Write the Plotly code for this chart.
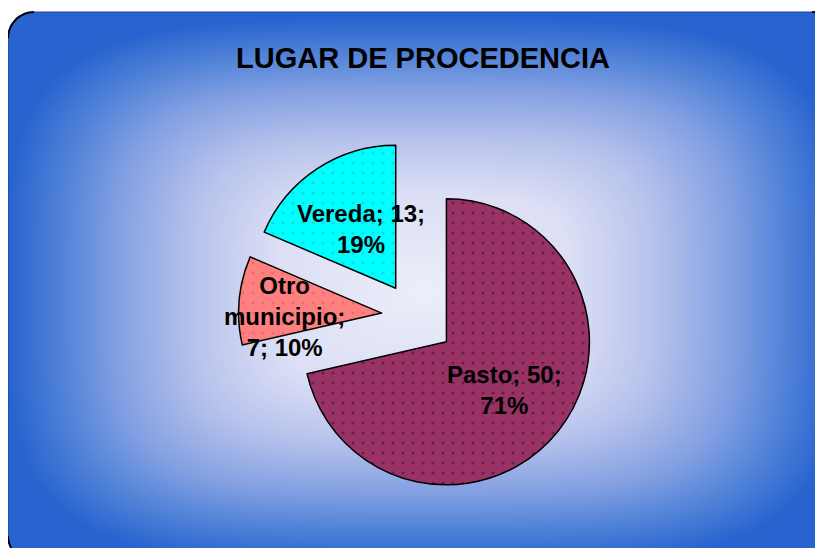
import numpy as np
import plotly.graph_objects as go

# data
labels = ['Pasto', 'Otro municipio', 'Vereda']
values = [50, 7, 13]
wrapped_labels = ['Pasto', 'Otro<br>municipio', 'Vereda']
value_breaks = [' ', '<br>', ' ']
pct_breaks = ['<br>', ' ', '<br>']
slice_colors = ['#993366', '#ff8080', '#00ffff']
dot_colors = ['#3c0a24', '#d85a5a', '#00c4c4']
title_text = 'LUGAR DE PROCEDENCIA'

# geometry in screen pixels (y downwards); the page puts the figure 8px in
W, H = 823, 548
OFF = 8
cx, cy = 414, 316          # pie centre
r = 143                    # pie radius
pull = [0.29, 0.227, 0.232]
label_dist = [0.53, 0.68, 0.48]   # label distance from slice tip, in radii
label_turn = [1, -7, 3]           # small angle nudges for labels, degrees

total = sum(values)
pcts = [round(100 * v / total) for v in values]
texts = [f"{w};{vb}{v};{pb}{p}%" for w, vb, v, pb, p in
         zip(wrapped_labels, value_breaks, values, pct_breaks, pcts)]

half = r * (1 + max(pull))
dom_x = [(cx - OFF - half) / W, (cx - OFF + half) / W]
dom_y = [(H + OFF - cy - half) / H, (H + OFF - cy + half) / H]

fig = go.Figure()

# background panel: rounded rectangle, light in the centre, blue at the rim
x0, y0, x1, y1, rc = 8, 12, 838, 562, 26
gx = np.arange(x0 + 2.5, x1, 5)
gy = np.arange(y0 + 2.5, y1, 5)
mx, my = (x0 + x1) / 2, 290
u = np.abs(gx[None, :] - mx) / ((x1 - x0) / 2)
v = np.abs(gy[:, None] - my) / (y1 - my)
shade = (u ** 4 + v ** 4) ** 0.25
fig.add_trace(go.Heatmap(
    x=gx, y=gy, z=shade, zmin=0, zmax=1, zsmooth='best', showscale=False,
    colorscale=[[0, '#eceef9'], [0.35, '#dcdff5'], [0.55, '#b8c3ec'],
                [0.74, '#83a0e2'], [0.87, '#5283d8'], [1, '#2864cf']],
    hoverinfo='skip'))

# white masks outside the rounded corners, then the rim line
t = np.linspace(0, np.pi / 2, 14)
corners = [
    (x0, y0, x0 + rc - rc * np.sin(t), y0 + rc - rc * np.cos(t)),
    (x1, y0, x1 - rc + rc * np.sin(t), y0 + rc - rc * np.cos(t)),
    (x1, y1, x1 - rc + rc * np.sin(t), y1 - rc + rc * np.cos(t)),
    (x0, y1, x0 + rc - rc * np.sin(t), y1 - rc + rc * np.cos(t)),
]
arc_x, arc_y = [], []
for kx, ky, ax, ay in corners:
    fig.add_trace(go.Scatter(
        x=np.concatenate([[kx], ax, [kx]]), y=np.concatenate([[ky], ay, [ky]]),
        mode='lines', fill='toself', fillcolor='#ffffff',
        line=dict(width=0), hoverinfo='skip', showlegend=False))
    arc_x += list(ax) + [None]
    arc_y += list(ay) + [None]
px_ = np.concatenate([x1 - rc + rc * np.sin(t), x1 - rc + rc * np.cos(t),
                      x0 + rc - rc * np.sin(t), x0 + rc - rc * np.cos(t)])
py_ = np.concatenate([y0 + rc - rc * np.cos(t), y1 - rc + rc * np.sin(t),
                      y1 - rc + rc * np.cos(t), y0 + rc - rc * np.sin(t)])
fig.add_trace(go.Scatter(
    x=np.append(px_, px_[0]), y=np.append(py_, py_[0]), mode='lines',
    line=dict(color='#15469e', width=1.2), hoverinfo='skip', showlegend=False))
# the dark rim only shows on the rounded corners
fig.add_trace(go.Scatter(
    x=arc_x, y=arc_y, mode='lines', line=dict(color='#000000', width=2),
    hoverinfo='skip', showlegend=False))

fig.add_trace(go.Pie(
    labels=labels, values=values, sort=False, direction='clockwise',
    rotation=0, pull=pull, textinfo='none', hoverinfo='label+value+percent',
    domain=dict(x=dom_x, y=dom_y),
    marker=dict(colors=slice_colors,
                line=dict(color='#000000', width=1.5),
                pattern=dict(shape='.', size=10, solidity=0.08,
                             fgcolor=dot_colors, fillmode='overlay')),
    showlegend=False))

# slice labels placed along each slice's mid angle
cum = 0
for val, p, f, turn, txt in zip(values, pull, label_dist, label_turn, texts):
    mid = 2 * np.pi * (cum + val / 2) / total
    cum += val
    tip_x, tip_y = cx + p * r * np.sin(mid), cy - p * r * np.cos(mid)
    ang = mid + np.radians(turn)
    fig.add_annotation(x=tip_x + f * r * np.sin(ang), y=tip_y - f * r * np.cos(ang),
                       xref='x', yref='y', text=txt, showarrow=False,
                       font=dict(family='Liberation Sans, Arial', size=24,
                                 color='#000000', weight='bold'))

fig.update_layout(
    width=W, height=H,
    margin=dict(l=0, r=0, t=0, b=0),
    paper_bgcolor='#ffffff', plot_bgcolor='#ffffff',
    title=dict(text=title_text, x=(423 - OFF) / W, y=1 - (58 - OFF) / H,
               xanchor='center', yanchor='middle',
               font=dict(family='Liberation Sans, Arial', size=29,
                         color='#000000', weight='bold')),
    xaxis=dict(range=[OFF, W + OFF], visible=False, fixedrange=True),
    yaxis=dict(range=[H + OFF, OFF], visible=False, fixedrange=True),
)

fig.write_html("out.html")
